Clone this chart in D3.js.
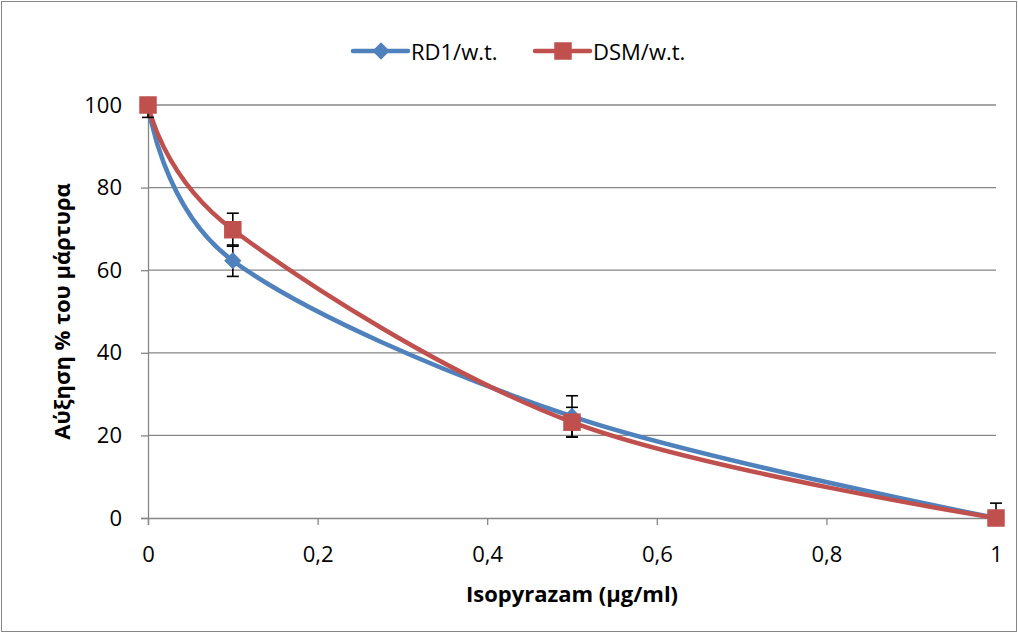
<!DOCTYPE html>
<html>
<head>
<meta charset="utf-8">
<script src="https://cdn.jsdelivr.net/npm/d3@7"></script>
<style>
  body { margin: 0; background: #fff; }
  text { font-family: "Open Sans", Lato, sans-serif; fill: #000; }
</style>
</head>
<body>
<div id="chart-area"></div>
<script>
// Data
var doses = [0, 0.1, 0.5, 1];
var rd1 = [100, 62.3, 24.6, 0];
var rd1Err = [3, 3.8, 5, 0];
var dsm = [100, 69.8, 23.2, 0];
var dsmErr = [0, 4, 3.6, 3.6];
var seriesNames = ["RD1/w.t.", "DSM/w.t."];
var xTicks = [0, 0.2, 0.4, 0.6, 0.8, 1];
var yTicks = [0, 20, 40, 60, 80, 100];

var W = 1018, H = 633;
var margin = { left: 148, right: 22, top: 105, bottom: 115 };
var width = W - margin.left - margin.right,
    height = H - margin.top - margin.bottom;
var fontSize = "22px";

var svg = d3.select("#chart-area")
    .append("svg")
    .attr("width", W)
    .attr("height", H);

// outer frame
svg.append("rect")
    .attr("x", 1.5).attr("y", 1.5)
    .attr("width", W - 3).attr("height", H - 3)
    .attr("fill", "none")
    .attr("stroke", "#868686");

var g = svg.append("g")
    .attr("transform", "translate(" + margin.left + "," + margin.top + ")");

// clip for error bars (Excel cuts them at the plot area)
svg.append("defs").append("clipPath")
    .attr("id", "plot-clip")
    .append("rect")
    .attr("x", -20).attr("y", 0)
    .attr("width", width + 40).attr("height", height);

// Scales
var x = d3.scaleLinear().domain([0, 1]).range([0, width]);
var y = d3.scaleLinear().domain([0, 100]).range([height, 0]);

// Grid
g.selectAll(".grid")
    .data(yTicks.slice(1))
    .enter().append("line")
    .attr("class", "grid")
    .attr("x1", 0).attr("x2", width)
    .attr("y1", function(d){ return y(d); })
    .attr("y2", function(d){ return y(d); })
    .attr("stroke", "#868686")
    .attr("stroke-width", 1.3);

// Y Axis
var yAxisCall = d3.axisLeft(y)
    .tickValues(yTicks)
    .tickSize(7)
    .tickPadding(19)
    .tickFormat(function(d){ return d; });
var yAxis = g.append("g").attr("class", "y axis").call(yAxisCall);

// X Axis
var xAxisCall = d3.axisBottom(x)
    .tickValues(xTicks)
    .tickSize(7)
    .tickPadding(21)
    .tickFormat(function(d){ return String(d).replace(".", ","); });
var xAxis = g.append("g")
    .attr("class", "x axis")
    .attr("transform", "translate(0," + height + ")")
    .call(xAxisCall);

[xAxis, yAxis].forEach(function(a){
    a.select(".domain").attr("stroke", "#868686").attr("stroke-width", 1.3);
    a.selectAll(".tick line").attr("stroke", "#868686").attr("stroke-width", 1.3);
    a.selectAll(".tick text")
        .attr("font-size", fontSize)
        .style("font-family", "'Open Sans', Lato, sans-serif")
        .attr("fill", "#000");
});

// Labels
g.append("text")
    .attr("x", width / 2)
    .attr("y", height + 84)
    .attr("font-size", fontSize)
    .attr("font-weight", "bold")
    .attr("text-anchor", "middle")
    .text("Isopyrazam (μg/ml)");
g.append("text")
    .attr("transform", "rotate(-90)")
    .attr("x", -height / 2)
    .attr("y", -78)
    .attr("font-size", fontSize)
    .attr("font-weight", "bold")
    .attr("text-anchor", "middle")
    .text("Αύξηση % του μάρτυρα");

var series = [
    { name: seriesNames[0], vals: rd1, err: rd1Err, color: "#4F81BD", marker: "diamond" },
    { name: seriesNames[1], vals: dsm, err: dsmErr, color: "#C0504D", marker: "square" }
];

var line = d3.line()
    .x(function(d){ return x(d[0]); })
    .y(function(d){ return y(d[1]); })
    .curve(d3.curveCardinal.tension(0));

function markerPath(type) {
    if (type === "diamond") return d3.symbol().type(d3.symbolDiamond2).size(190)();
    return d3.symbol().type(d3.symbolSquare2).size(390)();
}

// Lines
series.forEach(function(s){
    var pts = doses.map(function(d, i){ return [d, s.vals[i]]; });
    g.append("path")
        .datum(pts)
        .attr("fill", "none")
        .attr("stroke", s.color)
        .attr("stroke-width", 4.5)
        .attr("stroke-linejoin", "round")
        .attr("d", line);
});

// Error bars
var errG = g.append("g").attr("clip-path", "url(#plot-clip)");
series.forEach(function(s){
    doses.forEach(function(d, i){
        if (!s.err[i]) return;
        var cx = x(d), y1 = y(s.vals[i] + s.err[i]), y2 = y(s.vals[i] - s.err[i]);
        var eb = errG.append("g").attr("stroke", "#000").attr("stroke-width", 1.6);
        eb.append("line").attr("x1", cx).attr("x2", cx).attr("y1", y1).attr("y2", y2);
        eb.append("line").attr("x1", cx - 6).attr("x2", cx + 6).attr("y1", y1).attr("y2", y1);
        eb.append("line").attr("x1", cx - 6).attr("x2", cx + 6).attr("y1", y2).attr("y2", y2);
    });
});

// Markers
series.forEach(function(s){
    g.selectAll(".m-" + s.marker)
        .data(doses.map(function(d, i){ return [d, s.vals[i]]; }))
        .enter().append("path")
        .attr("class", "m-" + s.marker)
        .attr("d", markerPath(s.marker))
        .attr("transform", function(d){ return "translate(" + x(d[0]) + "," + y(d[1]) + ")"; })
        .attr("fill", s.color);
});

// Legend
var legendX = [353, 535];
series.forEach(function(s, i){
    var lg = svg.append("g").attr("transform", "translate(" + legendX[i] + ",51)");
    lg.append("line")
        .attr("x1", 0).attr("x2", 55)
        .attr("stroke", s.color)
        .attr("stroke-width", 4.5)
        .attr("stroke-linecap", "round");
    lg.append("path")
        .attr("d", markerPath(s.marker))
        .attr("transform", "translate(28,0)")
        .attr("fill", s.color);
    lg.append("text")
        .attr("x", 58)
        .attr("y", 8.5)
        .attr("font-size", fontSize)
        .text(s.name);
});
</script>
</body>
</html>
